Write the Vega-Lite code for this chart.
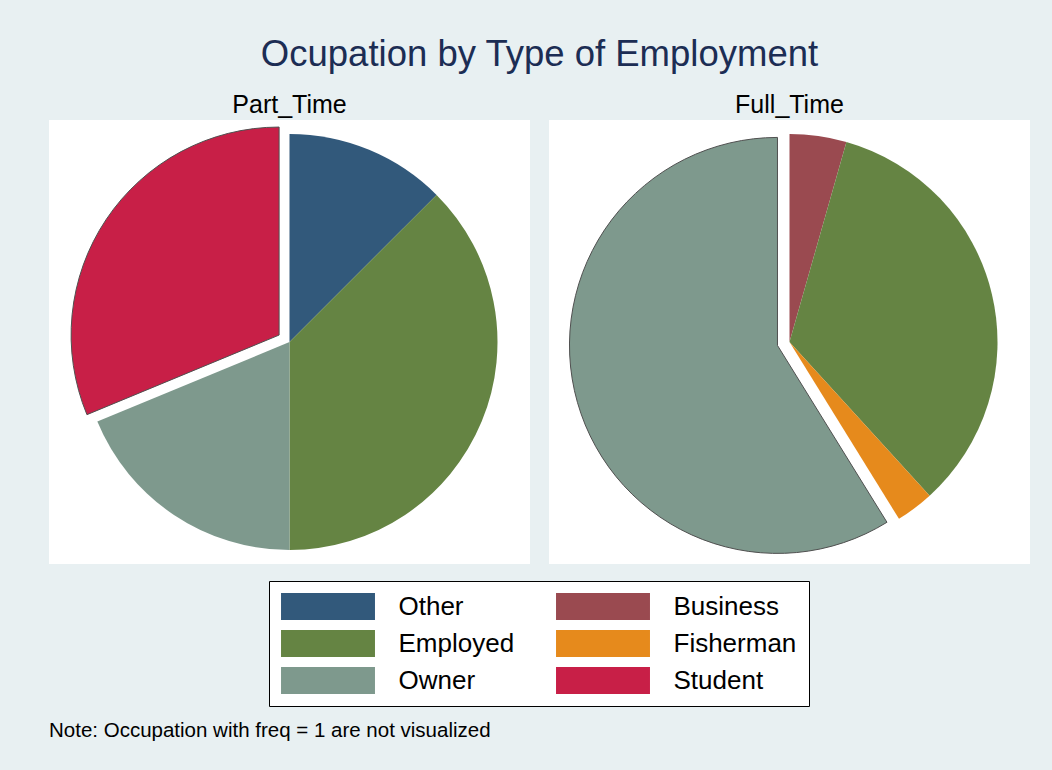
{
  "$schema": "https://vega.github.io/schema/vega-lite/v6.json",
  "background": "#e8f0f2",
  "padding": {"left": 49, "top": 36, "right": 22, "bottom": 30},
  "title": {
    "text": "Ocupation by Type of Employment",
    "anchor": "middle",
    "font": "Liberation Sans",
    "fontSize": 36.5,
    "fontWeight": "normal",
    "color": "#1c2d54",
    "offset": 20
  },
  "data": {
    "values": [
      {"Type": "Part_Time", "Occupation": "Other", "Code": 1, "Count": 2},
      {"Type": "Part_Time", "Occupation": "Employed", "Code": 3, "Count": 6},
      {"Type": "Part_Time", "Occupation": "Owner", "Code": 5, "Count": 3},
      {"Type": "Part_Time", "Occupation": "Student", "Code": 6, "Count": 5},
      {"Type": "Full_Time", "Occupation": "Business", "Code": 2, "Count": 3},
      {"Type": "Full_Time", "Occupation": "Employed", "Code": 3, "Count": 23},
      {"Type": "Full_Time", "Occupation": "Fisherman", "Code": 4, "Count": 2},
      {"Type": "Full_Time", "Occupation": "Owner", "Code": 5, "Count": 40}
    ]
  },
  "facet": {
    "column": {
      "field": "Type",
      "type": "nominal",
      "sort": ["Part_Time", "Full_Time"],
      "title": "Note: Occupation with freq = 1 are not visualized",
      "header": {
        "labelFont": "Liberation Sans",
        "labelFontSize": 25,
        "labelColor": "black",
        "labelPadding": 2,
        "titleOrient": "bottom",
        "titleAnchor": "start",
        "titleFont": "Liberation Sans",
        "titleFontSize": 20.5,
        "titleFontWeight": "normal",
        "titleColor": "black",
        "titlePadding": 147
      }
    }
  },
  "spacing": 19,
  "spec": {
    "width": 481,
    "height": 444,
    "view": {"fill": "white", "stroke": null},
    "mark": {
      "type": "arc",
      "outerRadius": 208,
      "xOffset": {"expr": "((datum.Type == 'Part_Time' && datum.Occupation == 'Student') || (datum.Type == 'Full_Time' && datum.Occupation == 'Owner') ? 12.5 : 0) * sin(PI * (datum.Count_start + datum.Count_end))"},
      "yOffset": {"expr": "-((datum.Type == 'Part_Time' && datum.Occupation == 'Student') || (datum.Type == 'Full_Time' && datum.Occupation == 'Owner') ? 12.5 : 0) * cos(PI * (datum.Count_start + datum.Count_end))"},
      "stroke": "#505050",
      "strokeWidth": {"expr": "(datum.Type == 'Part_Time' && datum.Occupation == 'Student') || (datum.Type == 'Full_Time' && datum.Occupation == 'Owner') ? 1 : 0"}
    },
    "encoding": {
      "theta": {"field": "Count", "type": "quantitative", "stack": "normalize"},
      "order": {"field": "Code", "type": "quantitative"},
      "color": {
        "field": "Occupation",
        "type": "nominal",
        "scale": {
          "domain": ["Other", "Business", "Employed", "Fisherman", "Owner", "Student"],
          "range": ["#32597b", "#9a4a50", "#658443", "#e68a1c", "#7e998d", "#c81f47"]
        },
        "legend": {
          "title": null,
          "orient": "none",
          "legendX": 220,
          "legendY": 461,
          "direction": "horizontal",
          "columns": 2,
          "symbolType": "M-3.48,-1H3.48V1H-3.48Z",
          "symbolSize": 729,
          "symbolOffset": 33.5,
          "symbolStrokeWidth": 0,
          "symbolOpacity": 1,
          "labelFont": "Liberation Sans",
          "labelFontSize": 26,
          "labelColor": "black",
          "labelOffset": 57,
          "labelLimit": 0,
          "rowPadding": 10,
          "columnPadding": 41,
          "padding": 12,
          "strokeColor": "black",
          "fillColor": "white"
        }
      }
    }
  },
  "config": {
    "view": {"stroke": null, "fill": "white"}
  }
}
